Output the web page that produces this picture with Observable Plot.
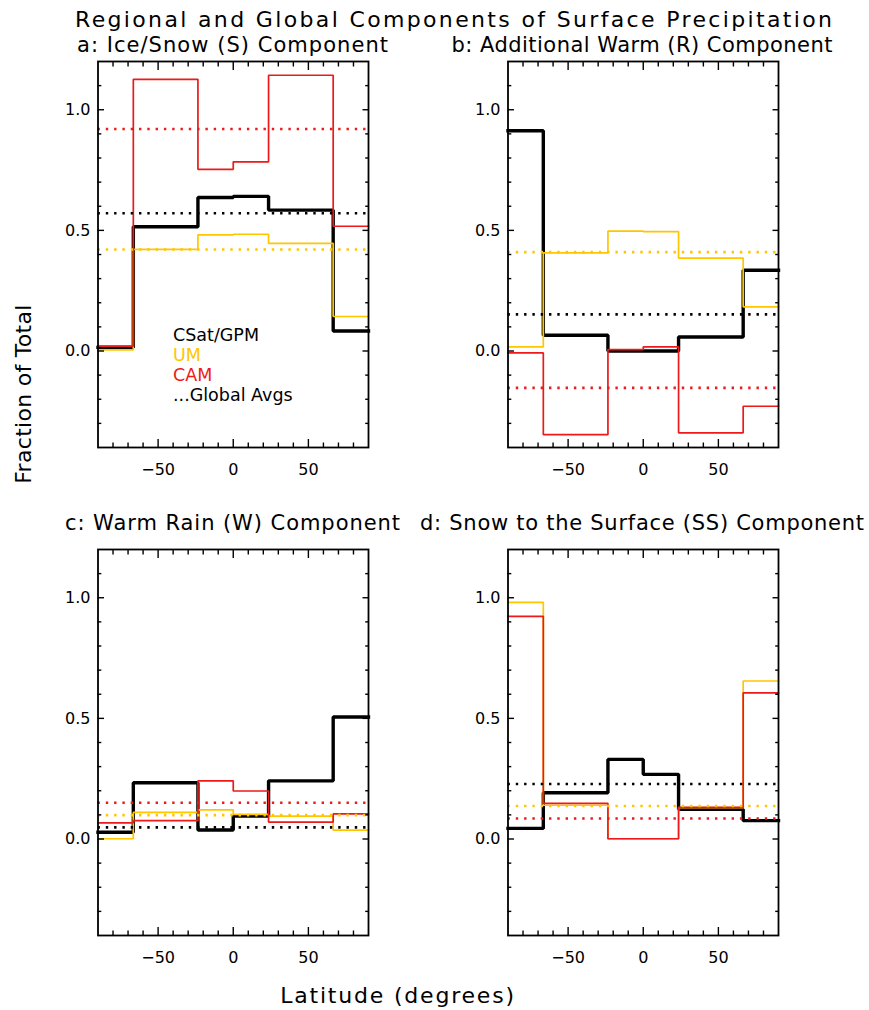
<!DOCTYPE html>
<html>
<head>
<meta charset="utf-8">
<script src="https://cdn.jsdelivr.net/npm/d3@7"></script>
<script src="https://cdn.jsdelivr.net/npm/@observablehq/plot@0.6"></script>
<style>
  body { margin: 0; background: #fff; }
  #chart { position: relative; width: 869px; height: 1010px; font-family: "DejaVu Sans", sans-serif; background: #fff; }
  #chart > svg { position: absolute; }
</style>
</head>
<body>
<div id="chart"></div>
<script>
// Latitude band edges (polar circles and tropics)
const latEdges = [-90, -66.5, -23.5, 0, 23.5, 66.5, 90];

const chartTitle = "Regional and Global Components of Surface Precipitation";
const panelTitles = [
  "a: Ice/Snow (S) Component",
  "b: Additional Warm (R) Component",
  "c: Warm Rain (W) Component",
  "d: Snow to the Surface (SS) Component"
];
const seriesNames = ["CSat/GPM", "UM", "CAM"];
const avgNote = "...Global Avgs";
const xLabel = "Latitude (degrees)";
const yLabel = "Fraction of Total";

// Fraction of total per latitude band, south to north
const csatS = [0.015, 0.515, 0.636, 0.641, 0.584, 0.083];
const umS   = [0.005, 0.421, 0.481, 0.484, 0.446, 0.143];
const camS  = [0.020, 1.126, 0.753, 0.784, 1.143, 0.517];

const csatR = [0.913, 0.065, 0.000, 0.000, 0.058, 0.335];
const umR   = [0.017, 0.407, 0.497, 0.495, 0.385, 0.183];
const camR  = [-0.008, -0.347, 0.006, 0.017, -0.339, -0.229];

const csatW = [0.028, 0.233, 0.037, 0.095, 0.241, 0.506];
const umW   = [0.001, 0.110, 0.121, 0.102, 0.095, 0.037];
const camW  = [0.067, 0.076, 0.241, 0.199, 0.070, 0.104];

const csatSS = [0.044, 0.192, 0.330, 0.268, 0.123, 0.076];
const umSS   = [0.981, 0.140, 0.000, 0.000, 0.130, 0.655];
const camSS  = [0.923, 0.148, 0.001, 0.001, 0.131, 0.606];

// Global averages: [CSat/GPM, UM, CAM]
const globalS  = [0.571, 0.421, 0.920];
const globalR  = [0.152, 0.410, -0.153];
const globalW  = [0.048, 0.099, 0.150];
const globalSS = [0.228, 0.137, 0.085];

// Axis ticks
const xMajor = [-50, 0, 50];
const xMinor = [-80, -70, -60, -40, -30, -20, -10, 10, 20, 30, 40, 60, 70, 80];
const yMajor = [0.0, 0.5, 1.0];
const yMinor = [-0.3, -0.2, -0.1, 0.1, 0.2, 0.3, 0.4, 0.6, 0.7, 0.8, 0.9, 1.1];

const colors = ["#000000", "#ffc600", "#ec1a1a"];
const widths = [3.4, 1.7, 1.7];

const panels = [
  {series: [csatS, umS, camS], avg: globalS, left: 0, top: 55},
  {series: [csatR, umR, camR], avg: globalR, left: 409.5, top: 55},
  {series: [csatW, umW, camW], avg: globalW, left: 0, top: 543},
  {series: [csatSS, umSS, camSS], avg: globalSS, left: 409.5, top: 543}
];

// Band values to step-line vertices (last value repeated at the north edge)
const steps = values => latEdges.map((lat, i) => ({lat, v: values[Math.min(i, values.length - 1)]}));
const fmtX = d => (d < 0 ? "\u2212" + Math.abs(d) : String(d));

const chart = document.getElementById("chart");

panels.forEach(p => {
  const marks = [];
  p.series.forEach((vals, i) => {
    marks.push(Plot.line(steps(vals), {x: "lat", y: "v", curve: "step-after", stroke: colors[i], strokeWidth: widths[i], strokeLinejoin: "miter", strokeLinecap: "square"}));
  });
  p.avg.forEach((a, i) => {
    marks.push(Plot.ruleY([a], {stroke: colors[i], strokeWidth: 2.6, strokeDasharray: "2.4,5.9"}));
  });
  for (const anchor of ["bottom", "top"]) {
    marks.push(Plot.axisX(xMajor, {anchor, tickSize: -8, fill: "none", label: null, strokeWidth: 1.4}));
    marks.push(Plot.axisX(xMinor, {anchor, tickSize: -4.5, fill: "none", label: null, strokeWidth: 1.4}));
  }
  for (const anchor of ["left", "right"]) {
    marks.push(Plot.axisY(yMajor, {anchor, tickSize: -6.5, fill: "none", label: null, strokeWidth: 1.4}));
    marks.push(Plot.axisY(yMinor, {anchor, tickSize: -3.8, fill: "none", label: null, strokeWidth: 1.4}));
  }
  marks.push(Plot.axisX(xMajor, {anchor: "bottom", tickSize: 0, tickPadding: 16, tickFormat: fmtX, label: null, fontSize: 16}));
  marks.push(Plot.axisY(yMajor, {anchor: "left", tickSize: 0, tickPadding: 7.5, tickFormat: d => d.toFixed(1), label: null, fontSize: 16}));
  marks.push(Plot.frame({stroke: "black", strokeWidth: 1.8}));

  const svg = Plot.plot({
    width: 380,
    height: 430,
    marginLeft: 97.5,
    marginRight: 12,
    marginTop: 6,
    marginBottom: 38,
    x: {domain: [-90, 90], axis: null},
    y: {domain: [-0.4, 1.2], axis: null},
    style: {fontFamily: "DejaVu Sans", fontSize: "16px", color: "black", background: "transparent", overflow: "visible"},
    marks
  });
  svg.style.left = p.left + "px";
  svg.style.top = p.top + "px";
  chart.appendChild(svg);
});

// Titles, axis labels and legend
const ov = d3.select(chart).append("svg")
  .attr("width", 869).attr("height", 1010)
  .style("left", "0px").style("top", "0px")
  .style("pointer-events", "none")
  .attr("font-family", "DejaVu Sans");

ov.append("text").attr("x", 453.5).attr("y", 27).attr("text-anchor", "middle")
  .attr("font-size", 22).attr("textLength", 757).attr("lengthAdjust", "spacing").text(chartTitle);

// Panel titles centred over each frame: [centre x, baseline y, text length]
const subPos = [[232.5, 52, 311], [642, 52, 381], [232.5, 530, 335], [642, 530, 444]];
panelTitles.forEach((t, i) => {
  ov.append("text").attr("x", subPos[i][0]).attr("y", subPos[i][1]).attr("text-anchor", "middle")
    .attr("font-size", 21).attr("textLength", subPos[i][2]).attr("lengthAdjust", "spacing").text(t);
});

ov.append("text").attr("transform", "translate(31,394) rotate(-90)").attr("text-anchor", "middle")
  .attr("font-size", 22).attr("letter-spacing", 0.3).text(yLabel);
ov.append("text").attr("x", 398).attr("y", 1003).attr("text-anchor", "middle")
  .attr("font-size", 22).attr("letter-spacing", 1.8).text(xLabel);

const legendItems = seriesNames.map((n, i) => ({label: n, color: colors[i]})).concat([{label: avgNote, color: "#000"}]);
legendItems.forEach((d, i) => {
  ov.append("text").attr("x", 173).attr("y", 341 + i * 20).attr("fill", d.color)
    .attr("font-size", 17.5).text(d.label);
});
</script>
</body>
</html>
